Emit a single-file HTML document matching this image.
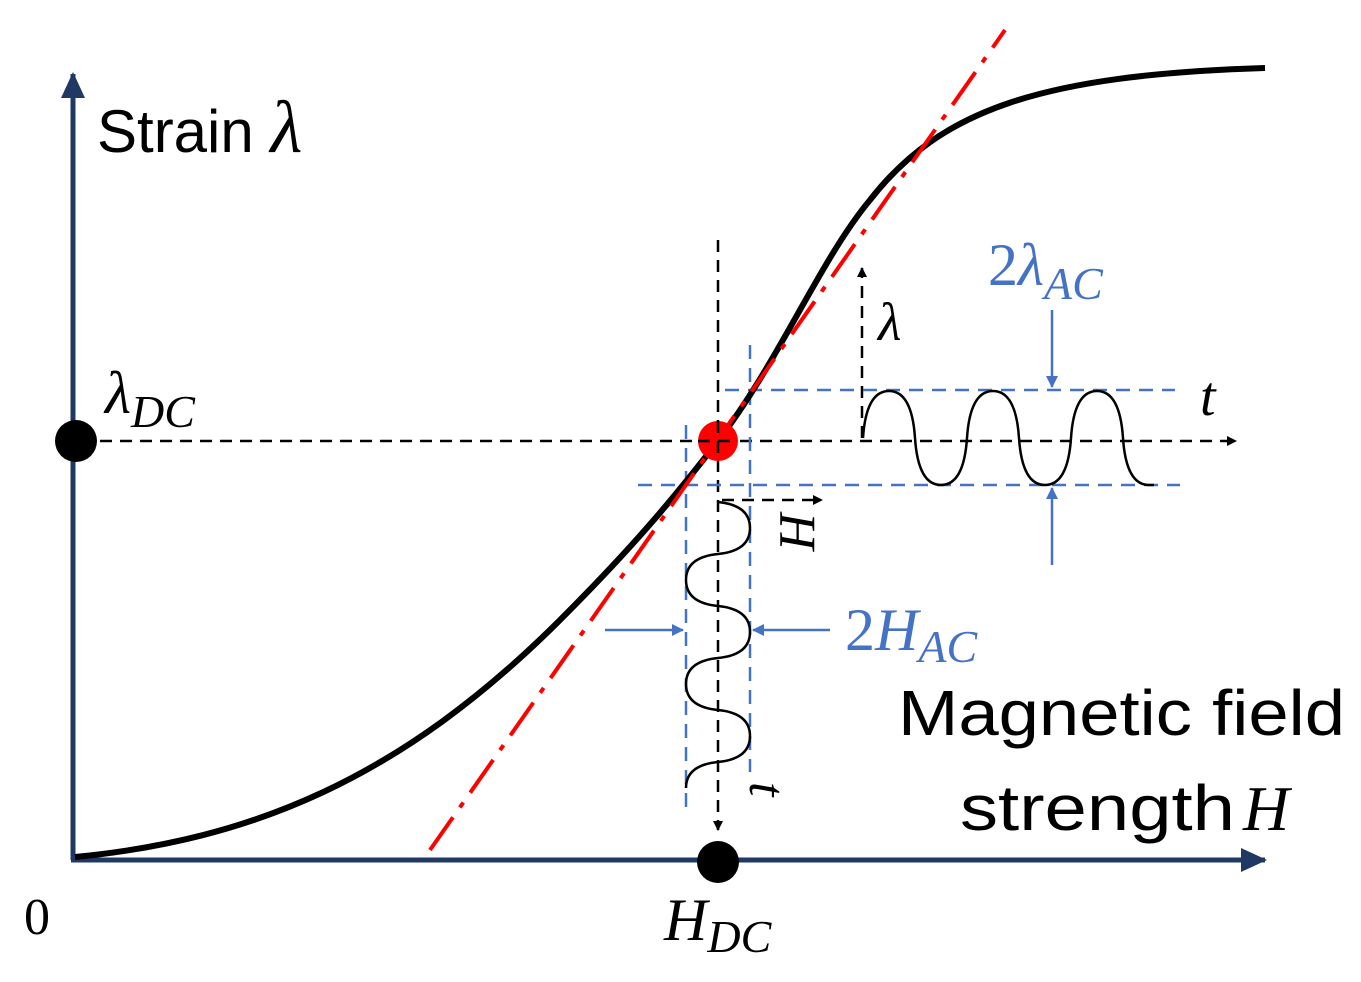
<!DOCTYPE html>
<html><head><meta charset="utf-8"><style>
html,body{margin:0;padding:0;background:#fff;}
svg{display:block;}
.sans{font-family:"Liberation Sans",sans-serif;}
.m{font-family:"Liberation Serif",serif;font-style:italic;}
</style></head><body>
<svg width="1361" height="982" viewBox="0 0 1361 982" xmlns="http://www.w3.org/2000/svg">
<defs>
<marker id="ab" markerWidth="10" markerHeight="10" refX="9" refY="5" orient="auto" markerUnits="userSpaceOnUse"><path d="M0,0 L10,5 L0,10 z" fill="#000"/></marker>
<marker id="abl" markerWidth="12" markerHeight="12" refX="11" refY="6" orient="auto" markerUnits="userSpaceOnUse"><path d="M0,0 L12,6 L0,12 z" fill="#4472c4"/></marker>
<marker id="an" markerWidth="26" markerHeight="24" refX="24" refY="12" orient="auto" markerUnits="userSpaceOnUse"><path d="M0,0 L26,12 L0,24 z" fill="#203864"/></marker>
</defs>
<line x1="73" y1="860" x2="73" y2="74" stroke="#203864" stroke-width="5" marker-end="url(#an)"/>
<line x1="71" y1="860" x2="1265" y2="860" stroke="#203864" stroke-width="5" marker-end="url(#an)"/>
<line x1="100" y1="441" x2="1236" y2="441" stroke="#000" stroke-width="2.5" stroke-dasharray="12 8" marker-end="url(#ab)"/>
<line x1="718" y1="240" x2="718" y2="830" stroke="#000" stroke-width="2.5" stroke-dasharray="12 8" marker-end="url(#ab)"/>
<line x1="862" y1="438" x2="862" y2="268" stroke="#000" stroke-width="2.5" stroke-dasharray="12 8" marker-end="url(#ab)"/>
<line x1="722" y1="500" x2="822" y2="500" stroke="#000" stroke-width="2.5" stroke-dasharray="12 8" marker-end="url(#ab)"/>
<g stroke="#4472c4" stroke-width="2.5" stroke-dasharray="14 9" fill="none">
<line x1="725" y1="390" x2="1175" y2="390"/>
<line x1="638" y1="485" x2="1180" y2="485"/>
<line x1="686" y1="425" x2="686" y2="812"/>
<line x1="750" y1="345" x2="750" y2="772"/>
</g>
<g stroke="#4472c4" stroke-width="2.5">
<line x1="1052" y1="310" x2="1052" y2="387" marker-end="url(#abl)"/>
<line x1="1052" y1="565" x2="1052" y2="488" marker-end="url(#abl)"/>
<line x1="605" y1="630" x2="683" y2="630" marker-end="url(#abl)"/>
<line x1="830" y1="630" x2="753" y2="630" marker-end="url(#abl)"/>
</g>
<path d="M863,438 c2,-30 10,-47 26,-47 c16,0 24,17 26,47 c2,30 10,47 26,47 c16,0 24,-17 26,-47
c2,-30 10,-47 26,-47 c16,0 24,17 26,47 c2,30 10,47 26,47 c16,0 24,-17 26,-47
c2,-30 10,-47 26,-47 c16,0 24,17 26,47 c2,30 10,47 26,47 l5,0" fill="none" stroke="#000" stroke-width="2.5"/>
<path d="M718,502 c20,2 32,10 32,26 c0,16 -12,24 -32,26 c-20,2 -32,10 -32,26 c0,16 12,24 32,26
c20,2 32,10 32,26 c0,16 -12,24 -32,26 c-20,2 -32,10 -32,26 c0,16 12,24 32,26
c20,2 32,10 32,26 c0,16 -12,24 -32,26 c-20,2 -32,10 -32,26" fill="none" stroke="#000" stroke-width="2.5"/>
<path d="M75,857 C250,840 400,780 560,620 C640,540 680,490 718,441 C780,360 820,260 870,200 C940,110 1040,75 1265,68" fill="none" stroke="#000" stroke-width="6"/>
<line x1="430" y1="850" x2="1005" y2="30" stroke="#ff0000" stroke-width="4" stroke-dasharray="40 12 6 12"/>
<circle cx="718" cy="441" r="20" fill="#ff0000"/>
<line x1="698" y1="441" x2="738" y2="441" stroke="#000" stroke-width="2.5" stroke-dasharray="12 8"/>
<line x1="718" y1="421" x2="718" y2="461" stroke="#000" stroke-width="2.5" stroke-dasharray="12 8"/>
<circle cx="76" cy="441" r="21" fill="#000"/>
<circle cx="718" cy="862" r="21" fill="#000"/>
<text x="97" y="152" class="sans" font-size="60">Strain <tspan class="m" font-size="74">λ</tspan></text>
<text x="105" y="413" class="m" font-size="60">λ<tspan font-size="46" dy="14">DC</tspan></text>
<text x="24" y="934" font-family="Liberation Serif,serif" font-size="52">0</text>
<text x="664" y="940" class="m" font-size="60">H<tspan font-size="46" dy="12">DC</tspan></text>
<text x="988" y="285" font-family="Liberation Serif,serif" font-size="60" fill="#4472c4">2<tspan class="m">λ</tspan><tspan class="m" font-size="46" dy="14">AC</tspan></text>
<text x="1200" y="415" class="m" font-size="56">t</text>
<text x="878" y="340" class="m" font-size="54">λ</text>
<text transform="translate(780,512) rotate(90)" class="m" font-size="52">H</text>
<text transform="translate(750,782) rotate(90)" class="m" font-size="52">t</text>
<text x="845" y="650" font-family="Liberation Serif,serif" font-size="60" fill="#4472c4">2<tspan class="m">H</tspan><tspan class="m" font-size="46" dy="12">AC</tspan></text>
<text x="898" y="735" class="sans" font-size="64" textLength="447" lengthAdjust="spacingAndGlyphs">Magnetic field</text>
<text x="960" y="830" class="sans" font-size="64" textLength="275" lengthAdjust="spacingAndGlyphs">strength</text>
<text x="1243" y="830" class="m" font-size="64">H</text>
</svg>
</body></html>
